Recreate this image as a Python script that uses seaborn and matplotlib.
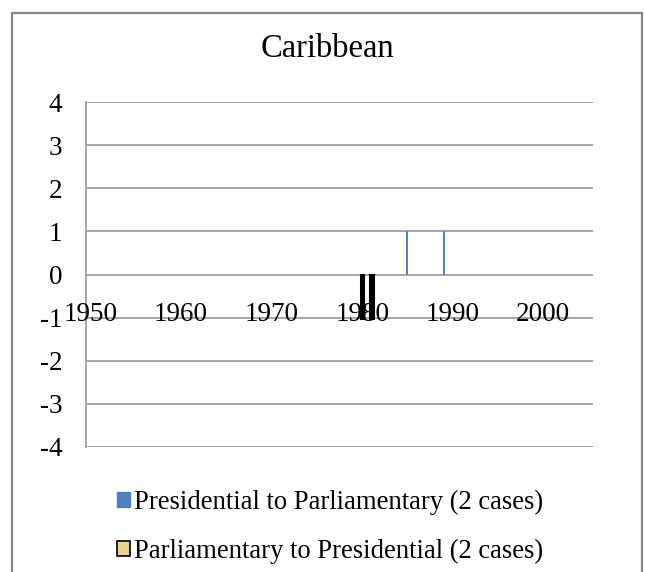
import matplotlib
matplotlib.use("Agg")
import matplotlib.pyplot as plt
from matplotlib.patches import Patch, Rectangle
import seaborn as sns
import pandas as pd

# ---- data ----
years = list(range(1950, 2006))
year_labels = [str(y) for y in years]
tick_years = [1950, 1960, 1970, 1980, 1990, 2000]
y_ticks = [-4, -3, -2, -1, 0, 1, 2, 3, 4]

pres_to_parl_years = [1985, 1989]
pres_to_parl_values = [1, 1]
parl_to_pres_years = [1980, 1981]
parl_to_pres_values = [-1, -1]

title = "Caribbean"
label_pp = "Presidential to Parliamentary (2 cases)"
label_ppr = "Parliamentary to Presidential (2 cases)"

blue = "#4F81BD"
tan = "#EBCF96"
grid_c = "#A6A6A6"

sns.set_theme(style="white")
plt.rcParams["font.family"] = ["Liberation Serif", "DejaVu Serif"]
plt.rcParams["text.color"] = "black"
plt.rcParams["ytick.color"] = "black"

fig = plt.figure(figsize=(6.45, 5.72), dpi=100)
ax = fig.add_axes([86 / 645, 1 - 447 / 572, (593 - 86) / 645, (447 - 102) / 572])

df1 = pd.DataFrame({"year": [str(y) for y in pres_to_parl_years], "value": pres_to_parl_values})
df2 = pd.DataFrame({"year": [str(y) for y in parl_to_pres_years], "value": parl_to_pres_values})

sns.barplot(data=df1, x="year", y="value", order=year_labels, color=blue,
            width=0.22, saturation=1, ax=ax, linewidth=0)
sns.barplot(data=df2, x="year", y="value", order=year_labels, color=tan,
            width=0.3, saturation=1, ax=ax, edgecolor="black", linewidth=2.2)

ax.set_xlim(-0.5, len(years) - 0.5)
ax.set_ylim(-4, 4)
ax.set_yticks(y_ticks)
ax.set_yticklabels([str(v) for v in y_ticks], fontsize=19.5, color="black")
ax.tick_params(axis="y", length=0, pad=17)
ax.set_xticks([])
ax.set_xlabel("")
ax.set_ylabel("")

for v in y_ticks:
    ax.axhline(v, color=grid_c, lw=1.4, zorder=0)

for s in ["top", "right", "bottom"]:
    ax.spines[s].set_visible(False)
ax.spines["left"].set_color(grid_c)
ax.spines["left"].set_linewidth(1.4)

for ty in tick_years:
    ax.text(years.index(ty), -0.93, str(ty), ha="center", va="center",
            fontsize=19.5, color="black", zorder=5)

fig.text(327 / 645, 1 - 49 / 572, title, ha="center", va="center", fontsize=23.5,
         color="black")

handles = [Patch(facecolor=blue, edgecolor=blue, label=label_pp),
           Patch(facecolor=tan, edgecolor="black", linewidth=1.2, label=label_ppr)]
fig.legend(handles=handles, loc="center", bbox_to_anchor=(330 / 645, 1 - 527 / 572),
           frameon=False, fontsize=19.2, handlelength=0.5, handleheight=0.5,
           handletextpad=0.15, labelspacing=0.9, borderpad=0, labelcolor="black")

fig.patches.append(Rectangle((11.5 / 645, -0.1), (642 - 11.5) / 645, 1.1 - 12.5 / 572,
                             transform=fig.transFigure, fill=False,
                             edgecolor="#868686", linewidth=1.6))

fig.savefig("out.png", dpi=100)
